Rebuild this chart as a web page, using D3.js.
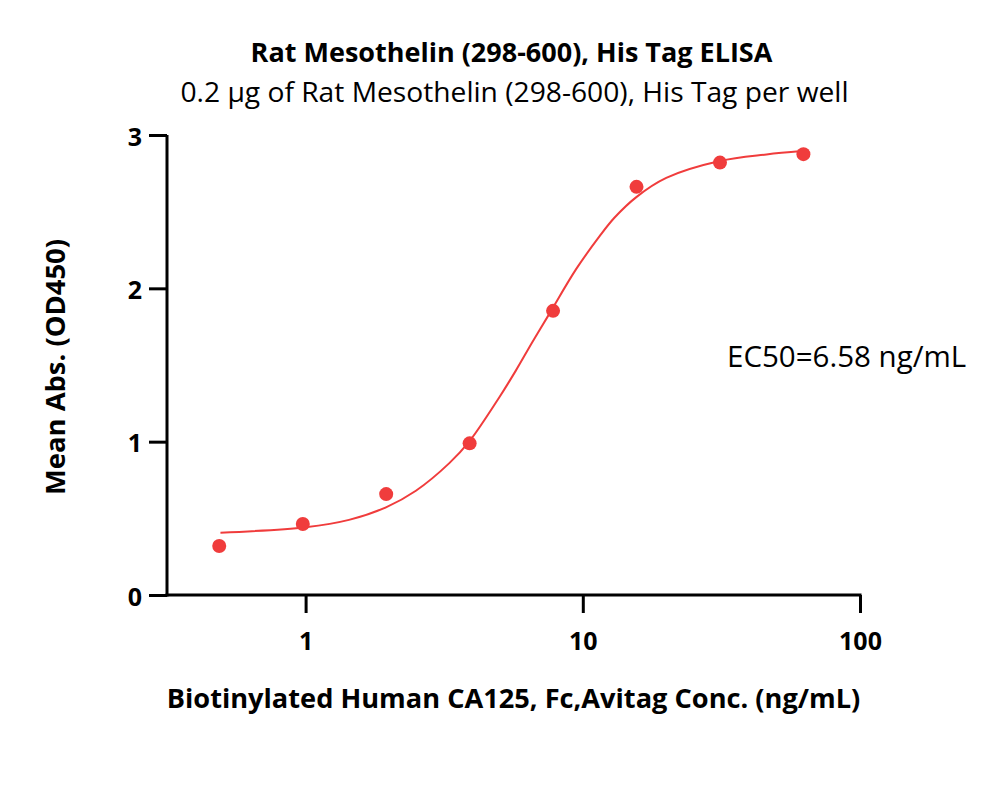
<!DOCTYPE html>
<html>
<head>
<meta charset="utf-8">
<script src="https://cdn.jsdelivr.net/npm/d3@7/dist/d3.min.js"></script>
<style>
  html, body { margin: 0; padding: 0; background: #fff; }
  svg { display: block; }
  text { font-family: "Open Sans", Lato, sans-serif; fill: #000; }
</style>
</head>
<body>
<svg id="chart" width="1000" height="791"></svg>
<script>
// ---- data ----
const concentrations = [0.488, 0.977, 1.953, 3.906, 7.8125, 15.625, 31.25, 62.5];
const meanAbs        = [0.32, 0.463, 0.658, 0.989, 1.853, 2.662, 2.82, 2.875];

// fitted curve
const fitConc = [0.493, 1.0, 1.434, 1.95, 2.5, 3.3, 3.89, 5.0, 5.74, 6.58, 7.58, 9.46, 11.5, 13.0, 15.6, 20.0, 31.2, 46.0, 61.6];
const fitAbs  = [0.406, 0.442, 0.49, 0.572, 0.68, 0.86, 1.0, 1.29, 1.465, 1.65, 1.835, 2.125, 2.34, 2.46, 2.595, 2.72, 2.83, 2.873, 2.895];

const xTicks = [1, 10, 100];
const yTicks = [0, 1, 2, 3];

const titleText = "Rat Mesothelin (298-600), His Tag ELISA";
const subtitleText = "0.2 \u00b5g of Rat Mesothelin (298-600), His Tag per well";
const xLabel = "Biotinylated Human CA125, Fc,Avitag Conc. (ng/mL)";
const yLabel = "Mean Abs. (OD450)";
const ec50Text = "EC50=6.58 ng/mL";

// ---- layout ----
const svg = d3.select("#chart");
const red = "#f03c3c";

const x = d3.scaleLog().domain([Math.pow(10, -0.5), 100]).range([167, 860]);
const y = d3.scaleLinear().domain([0, 3]).range([595, 135]);

const xAxis = d3.axisBottom(x).tickValues(xTicks).tickFormat(d3.format("d")).tickSize(18).tickPadding(19).tickSizeOuter(0);
const yAxis = d3.axisLeft(y).tickValues(yTicks).tickFormat(d3.format("d")).tickSize(18).tickPadding(7).tickSizeOuter(0);

const gx = svg.append("g").attr("transform", `translate(0,${y(0)})`).call(xAxis);
const gy = svg.append("g").attr("transform", `translate(${x.range()[0]},0)`).call(yAxis);

[gx, gy].forEach(g => {
  g.select(".domain").attr("stroke", "#000").attr("stroke-width", 3);
  g.selectAll(".tick line").attr("stroke", "#000").attr("stroke-width", 3);
  g.selectAll(".tick text")
    .style("font-family", "'Open Sans', sans-serif")
    .style("font-weight", "bold")
    .style("font-size", "25px")
    .attr("fill", "#000");
});
gy.selectAll(".tick text").attr("dy", "0.4em");
gx.select(".domain").attr("d", `M${x.range()[0] - 1.5},0H${x.range()[1] + 1.5}`);
gy.select(".domain").attr("d", `M0,${y.range()[0] + 1.5}V${y.range()[1]}`);

// fitted curve
const line = d3.line()
  .x((d, i) => x(fitConc[i]))
  .y((d, i) => y(fitAbs[i]))
  .curve(d3.curveCatmullRom.alpha(0.5));

svg.append("path")
  .datum(fitConc)
  .attr("d", line)
  .attr("fill", "none")
  .attr("stroke", red)
  .attr("stroke-width", 2);

// points
svg.append("g").selectAll("circle")
  .data(concentrations)
  .join("circle")
  .attr("cx", d => x(d))
  .attr("cy", (d, i) => y(meanAbs[i]))
  .attr("r", 7)
  .attr("fill", red);

// titles
const cx = (x.range()[0] + x.range()[1]) / 2;
svg.append("text").attr("x", cx - 2).attr("y", 62).attr("text-anchor", "middle")
  .style("font-weight", "bold").style("font-size", "27px").text(titleText);
svg.append("text").attr("x", cx + 1).attr("y", 102).attr("text-anchor", "middle")
  .style("font-size", "28.2px").text(subtitleText);

// axis labels
svg.append("text").attr("x", cx).attr("y", 708).attr("text-anchor", "middle")
  .style("font-weight", "bold").style("font-size", "27.2px").text(xLabel);
svg.append("text").attr("transform", `translate(65,367) rotate(-90)`).attr("text-anchor", "middle")
  .style("font-weight", "bold").style("font-size", "27.4px").text(yLabel);

// EC50 annotation
svg.append("text").attr("x", 727).attr("y", 367)
  .style("font-size", "29.5px").text(ec50Text);
</script>
</body>
</html>
